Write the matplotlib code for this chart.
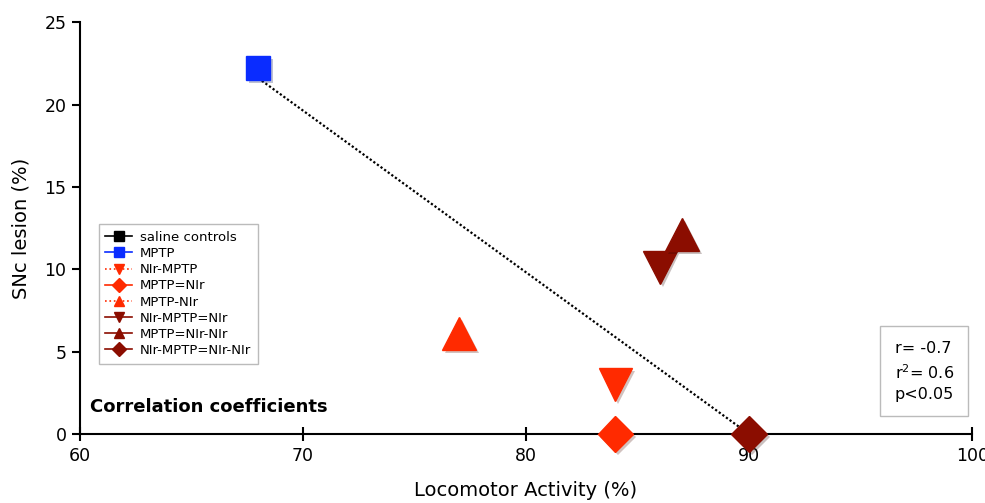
import matplotlib
matplotlib.use('Agg')
import matplotlib.pyplot as plt
import matplotlib.patheffects as pe
from matplotlib.lines import Line2D

# groups: locomotor activity (%) vs SNc lesion (%)
groups = ['saline controls', 'MPTP', 'NIr-MPTP', 'MPTP=NIr', 'MPTP-NIr',
          'NIr-MPTP=NIr', 'MPTP=NIr-NIr', 'NIr-MPTP=NIr-NIr']
activity = [None, 68, 84, 84, 77, 86, 87, 90]
lesion = [None, 22.2, 3.0, 0.0, 6.1, 10.1, 12.1, 0.0]
markers = ['s', 's', 'v', 'D', '^', 'v', '^', 'D']
colors = ['#000000', '#0a2cff', '#ff2a00', '#ff2a00', '#ff2a00',
          '#8b0d00', '#8b0d00', '#8b0d00']
leg_styles = ['-', '-', ':', '-', ':', '-', '-', '-']
sizes = [17, 17, 24, 18, 24, 24, 24, 18]

# trend line
trend_x = [68, 90]
trend_y = [21.6, 0]

fig = plt.figure(figsize=(9.85, 5.03), dpi=100)
ax = fig.add_axes([0.081, 0.137, 0.906, 0.819])

ax.plot(trend_x, trend_y, color='black', linestyle=(0, (1, 1)), linewidth=1.6, zorder=2)

shadow = [pe.SimplePatchShadow(offset=(2, -2), alpha=0.25), pe.Normal()]
handles = []
for g, x, y, m, c, ls, s in zip(groups, activity, lesion, markers, colors, leg_styles, sizes):
    if x is not None:
        ax.plot([x], [y], marker=m, color=c, markersize=s, linestyle='none',
                clip_on=False, zorder=3, path_effects=shadow)
    handles.append(Line2D([], [], marker=m, color=c, linestyle=ls,
                          markersize=7, linewidth=1.2, label=g))

ax.set_xlim(60, 100)
ax.set_ylim(0, 25)
ax.set_xticks([60, 70, 80, 90, 100])
ax.set_yticks([0, 5, 10, 15, 20, 25])
ax.spines['top'].set_visible(False)
ax.spines['right'].set_visible(False)
ax.spines['left'].set_linewidth(1.5)
ax.spines['bottom'].set_linewidth(1.5)
ax.tick_params(axis='x', direction='inout', length=10, width=1.5, labelsize=12.5, pad=4)
ax.tick_params(axis='y', direction='out', length=6, width=1.5, labelsize=12.5)
ax.set_xlabel('Locomotor Activity (%)', fontsize=14, labelpad=12)
ax.set_ylabel('SNc lesion (%)', fontsize=14, labelpad=10)

leg = ax.legend(handles=handles, loc='lower left', bbox_to_anchor=(0.014, 0.155),
                fontsize=9.5, frameon=True, fancybox=False, handlelength=2.0,
                labelspacing=0.24, borderpad=0.5, handletextpad=0.6)
leg.get_frame().set_edgecolor('#aaaaaa')
leg.get_frame().set_linewidth(1.0)

ax.text(0.913, 0.078, 'r= -0.7\nr$^2$= 0.6\np<0.05', transform=ax.transAxes,
        ha='left', va='bottom', fontsize=11.5, linespacing=1.45,
        bbox=dict(boxstyle='square,pad=0.9', facecolor='white', edgecolor='#bbbbbb'))

ax.text(0.012, 0.065, 'Correlation coefficients', transform=ax.transAxes,
        fontsize=13, fontweight='bold', ha='left', va='center')

fig.savefig('out.png', dpi=100)
